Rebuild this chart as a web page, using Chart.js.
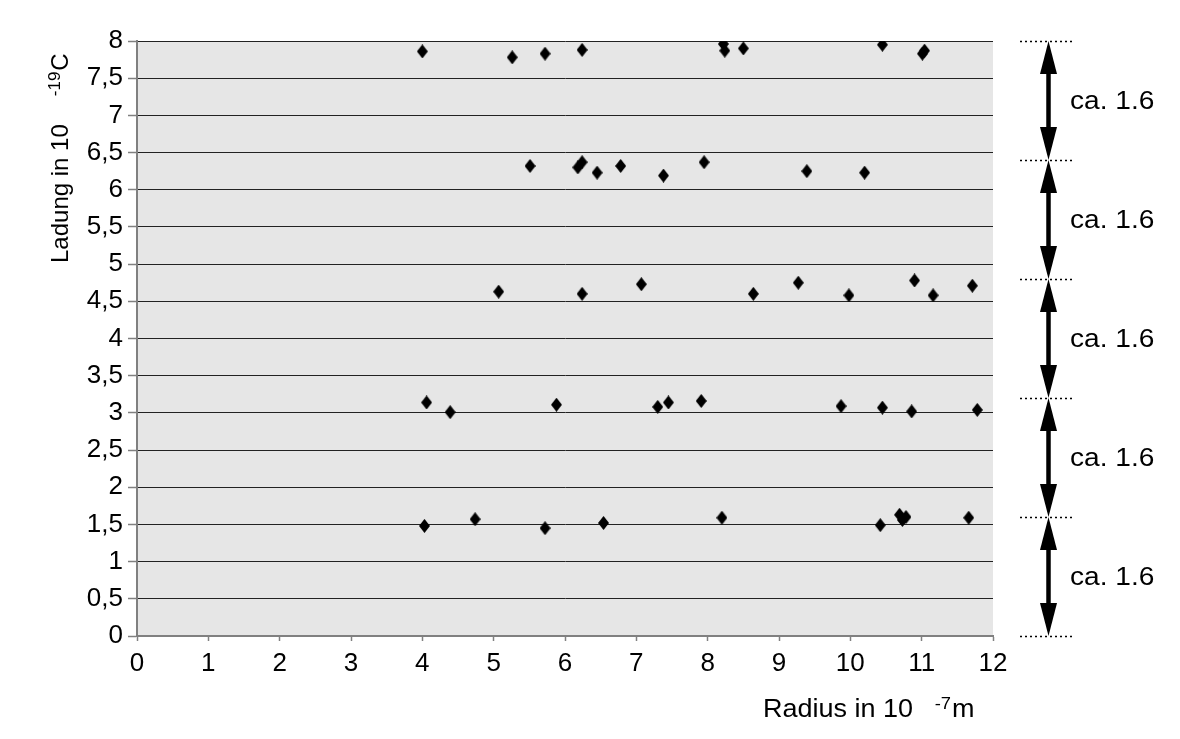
<!DOCTYPE html>
<html>
<head>
<meta charset="utf-8">
<script src="https://cdn.jsdelivr.net/npm/chart.js@4"></script>
<style>
  body { margin: 0; background: #fff; }
  #wrap { width: 1180px; height: 739px; position: relative; }
</style>
</head>
<body>
<div id="wrap"><canvas id="chart"></canvas></div>
<script>
// Messwerte (Radius in 10^-7 m, Ladung in 10^-19 C)
const radius = [
  4.00, 5.26, 5.72, 6.24, 8.22, 8.24, 8.50, 10.45, 11.01, 11.04,
  5.51, 6.18, 6.24, 6.45, 6.78, 7.38, 7.95, 9.39, 10.20,
  5.07, 6.24, 7.07, 8.64, 9.27, 9.98, 10.90, 11.16, 11.71,
  4.06, 4.39, 5.88, 7.30, 7.45, 7.91, 9.87, 10.45, 10.86, 11.78,
  4.03, 4.74, 5.72, 6.54, 8.20, 10.42, 10.69, 10.73, 10.78, 11.66
];
const charge = [
  7.86, 7.78, 7.83, 7.88, 7.96, 7.87, 7.90, 7.95, 7.83, 7.87,
  6.32, 6.30, 6.37, 6.23, 6.32, 6.19, 6.37, 6.25, 6.23,
  4.63, 4.60, 4.73, 4.60, 4.75, 4.58, 4.78, 4.58, 4.71,
  3.14, 3.01, 3.11, 3.08, 3.14, 3.16, 3.09, 3.07, 3.02, 3.04,
  1.48, 1.57, 1.45, 1.52, 1.59, 1.49, 1.63, 1.56, 1.60, 1.59
];
// Stufen rechts neben dem Diagramm
const levels = [0, 1.6, 3.2, 4.8, 6.4, 8.0];
const levelLabel = 'ca. 1.6';

const FONT = '"Liberation Sans", Arial, sans-serif';

// Raute als Punktsymbol
const diamond = document.createElement('canvas');
diamond.width = 11; diamond.height = 14;
(function () {
  const c = diamond.getContext('2d');
  c.fillStyle = '#000';
  c.beginPath();
  c.moveTo(5.5, 0); c.lineTo(11, 7); c.lineTo(5.5, 14); c.lineTo(0, 7);
  c.closePath(); c.fill();
})();

const plotBg = {
  id: 'plotBg',
  beforeDraw(chart) {
    const { ctx, chartArea: a } = chart;
    ctx.save();
    ctx.fillStyle = '#e6e6e6';
    ctx.fillRect(a.left, a.top, a.right - a.left, a.bottom - a.top);
    ctx.restore();
  }
};

// Text mit Hochzahl: parts = [text, size, raise, gapBefore]
function drawParts(ctx, parts, x, y) {
  let cx = x;
  parts.forEach(([t, size, raise, gap]) => {
    cx += gap;
    ctx.font = size + 'px ' + FONT;
    ctx.fillText(t, cx, y - raise);
    cx += ctx.measureText(t).width;
  });
}

const extras = {
  id: 'extras',
  afterDraw(chart) {
    const { ctx } = chart;
    const y = chart.scales.y;
    ctx.save();
    ctx.fillStyle = '#000';
    ctx.textBaseline = 'alphabetic';
    ctx.textAlign = 'left';

    // Achsentitel
    ctx.save();
    ctx.translate(763, 717);
    ctx.scale(1.08, 1);
    drawParts(ctx, [['Radius in 10', 25, 0, 0], ['-7', 17, 8, 20], ['m', 25, 0, 1]], 0, 0);
    ctx.restore();

    ctx.save();
    ctx.translate(68, 263);
    ctx.rotate(-Math.PI / 2);
    drawParts(ctx, [['Ladung in 10', 24, 0, 0], ['-19', 17, 8, 28], ['C', 24, 0, 1]], 0, 0);
    ctx.restore();

    // gepunktete Linien
    ctx.strokeStyle = '#000';
    ctx.lineWidth = 1.5;
    ctx.setLineDash([2, 3]);
    levels.forEach(v => {
      const py = Math.round(y.getPixelForValue(v)) + 0.5;
      ctx.beginPath();
      ctx.moveTo(1020, py); ctx.lineTo(1074, py);
      ctx.stroke();
    });
    ctx.setLineDash([]);

    // Doppelpfeile
    const ax = 1048.5, head = 33, hw = 8.5;
    for (let i = 0; i < levels.length - 1; i++) {
      const yb = y.getPixelForValue(levels[i]);
      const yt = y.getPixelForValue(levels[i + 1]);
      ctx.lineWidth = 4.5;
      ctx.beginPath();
      ctx.moveTo(ax, yt + head - 2); ctx.lineTo(ax, yb - head + 2);
      ctx.stroke();
      ctx.beginPath();
      ctx.moveTo(ax, yt); ctx.lineTo(ax + hw, yt + head); ctx.lineTo(ax - hw, yt + head);
      ctx.closePath(); ctx.fill();
      ctx.beginPath();
      ctx.moveTo(ax, yb); ctx.lineTo(ax + hw, yb - head); ctx.lineTo(ax - hw, yb - head);
      ctx.closePath(); ctx.fill();

      ctx.save();
      ctx.translate(1070, (yb + yt) / 2 + 1);
      ctx.scale(1.08, 1);
      ctx.font = '26px ' + FONT;
      ctx.textBaseline = 'middle';
      ctx.fillText(levelLabel, 0, 0);
      ctx.restore();
    }
    ctx.restore();
  }
};

new Chart(document.getElementById('chart'), {
  type: 'scatter',
  data: {
    datasets: [{
      data: radius.map((r, i) => ({ x: r, y: charge[i] })),
      pointStyle: diamond,
      pointRadius: 6,
      pointHoverRadius: 6
    }]
  },
  options: {
    responsive: true,
    maintainAspectRatio: false,
    animation: false,
    layout: { padding: { left: 0, right: 187, top: 41, bottom: 0 } },
    plugins: { legend: { display: false }, tooltip: { enabled: false } },
    scales: {
      x: {
        type: 'linear',
        min: 0, max: 12,
        afterFit: s => { s.height = 103; },
        ticks: { stepSize: 1, color: '#000', padding: 7, font: { family: FONT, size: 26 } },
        grid: { drawOnChartArea: false, tickLength: 5, tickColor: '#808080', tickWidth: 1.5 },
        border: { color: '#808080', width: 2 }
      },
      y: {
        min: 0, max: 8,
        afterFit: s => { s.width = 137; },
        ticks: {
          stepSize: 0.5, color: '#000', padding: 5,
          font: { family: FONT, size: 26 },
          callback: v => String(v).replace('.', ',')
        },
        grid: { color: '#222', lineWidth: 1, tickLength: 9, tickColor: '#808080', tickWidth: 1.5 },
        border: { color: '#808080', width: 2 }
      }
    }
  },
  plugins: [plotBg, extras]
});
</script>
</body>
</html>
